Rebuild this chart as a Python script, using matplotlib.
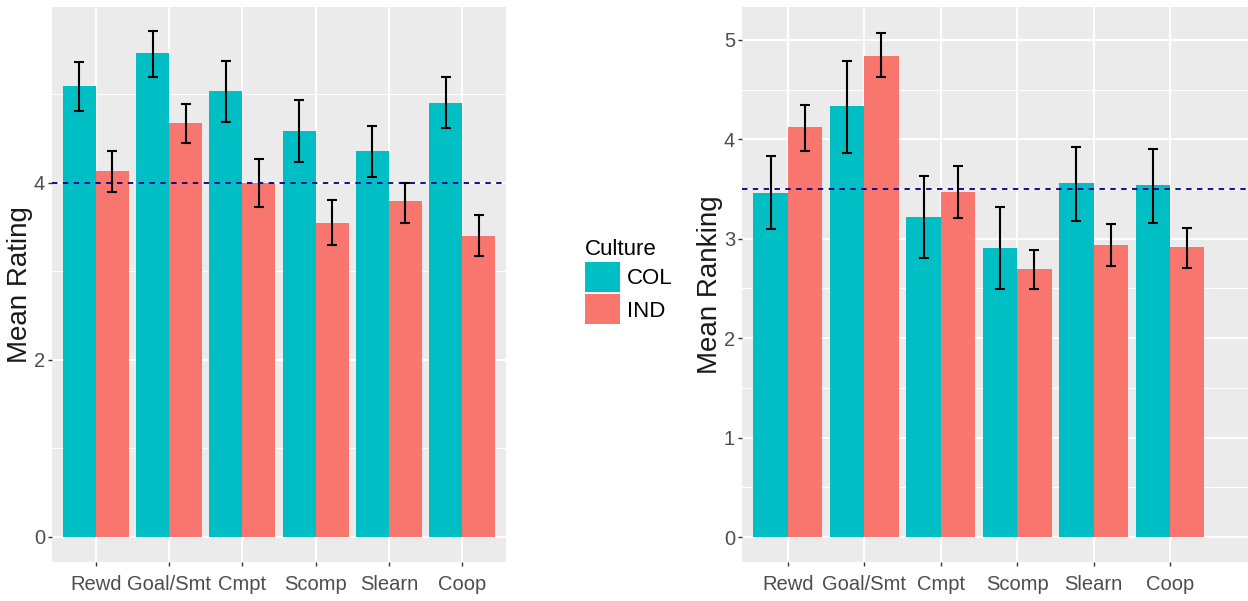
import numpy as np
import matplotlib
matplotlib.use("Agg")
import matplotlib.pyplot as plt
from matplotlib.patches import Patch
from matplotlib.ticker import MultipleLocator

plt.rcParams['font.family'] = ['Liberation Sans', 'DejaVu Sans']

categories = ["Rewd", "Goal/Smt", "Cmpt", "Scomp", "Slearn", "Coop"]

# left panel: mean rating
rating_col = [5.09, 5.46, 5.04, 4.58, 4.36, 4.90]
rating_col_lo = [4.81, 5.19, 4.69, 4.23, 4.07, 4.62]
rating_col_hi = [5.36, 5.71, 5.38, 4.94, 4.64, 5.19]
rating_ind = [4.13, 4.67, 4.00, 3.54, 3.79, 3.40]
rating_ind_lo = [3.89, 4.45, 3.72, 3.30, 3.55, 3.17]
rating_ind_hi = [4.36, 4.89, 4.27, 3.80, 4.00, 3.64]
rating_ref = 4.0

# right panel: mean ranking
rank_col = [3.46, 4.33, 3.22, 2.91, 3.56, 3.54]
rank_col_lo = [3.10, 3.86, 2.81, 2.49, 3.18, 3.16]
rank_col_hi = [3.83, 4.79, 3.63, 3.32, 3.92, 3.90]
rank_ind = [4.12, 4.84, 3.47, 2.70, 2.94, 2.92]
rank_ind_lo = [3.88, 4.63, 3.21, 2.49, 2.73, 2.71]
rank_ind_hi = [4.34, 5.07, 3.73, 2.89, 3.15, 3.11]
rank_ref = 3.5

TEAL = "#00BFC4"
SALMON = "#F8766D"
W, H = 1248, 601

fig = plt.figure(figsize=(W / 100, H / 100), dpi=100)


def px_axes(x0, y0, x1, y1):
    # pixel box (top-left origin) -> figure coords
    return fig.add_axes([x0 / W, 1 - y1 / H, (x1 - x0) / W, (y1 - y0) / H])


def draw_panel(ax, col, col_lo, col_hi, ind, ind_lo, ind_hi, ref, ylab, ylim, xlim, major, minor, labx):
    x = np.arange(1, len(categories) + 1)
    ax.set_facecolor("#EBEBEB")
    for s in ax.spines.values():
        s.set_visible(False)
    ax.set_axisbelow(True)
    ax.yaxis.set_major_locator(MultipleLocator(major))
    ax.yaxis.set_minor_locator(MultipleLocator(minor))
    ax.grid(which="major", color="white", linewidth=1.4)
    ax.grid(which="minor", axis="y", color="white", linewidth=0.7)
    ax.bar(x - 0.225, col, width=0.45, color=TEAL, zorder=2)
    ax.bar(x + 0.225, ind, width=0.45, color=SALMON, zorder=2)
    col = np.array(col)
    ind = np.array(ind)
    ax.errorbar(x - 0.225, col, yerr=[col - np.array(col_lo), np.array(col_hi) - col],
                fmt="none", ecolor="black", elinewidth=1.5, capsize=3.5, capthick=1.5, zorder=3)
    ax.errorbar(x + 0.225, ind, yerr=[ind - np.array(ind_lo), np.array(ind_hi) - ind],
                fmt="none", ecolor="black", elinewidth=1.5, capsize=3.5, capthick=1.5, zorder=3)
    ax.axhline(ref, color="#00008B", linestyle=(0, (3, 3)), linewidth=1.3, zorder=4)
    ax.set_xticks(x)
    ax.set_xticklabels(categories)
    ax.set_xlim(*xlim)
    ax.set_ylim(*ylim)
    ax.tick_params(which="major", length=3, width=1, color="#333333", labelsize=14.5,
                   labelcolor="#4D4D4D", pad=2)
    ax.tick_params(axis="x", pad=6)
    ax.tick_params(which="minor", length=0)
    ax.set_ylabel(ylab, fontsize=20, color="#1A1A1A")
    ax.yaxis.set_label_coords(labx, 0.5)


ax1 = px_axes(52, 7, 506, 562)
draw_panel(ax1, rating_col, rating_col_lo, rating_col_hi, rating_ind, rating_ind_lo, rating_ind_hi,
           rating_ref, "Mean Rating", (-0.285, 5.985), (0.4, 6.6), 2, 1, -0.042)

ax2 = px_axes(742, 7, 1248, 562)
draw_panel(ax2, rank_col, rank_col_lo, rank_col_hi, rank_ind, rank_ind_lo, rank_ind_hi,
           rank_ref, "Mean Ranking", (-0.25, 5.33), (0.4, 7.02), 1, 0.5, -0.038)

handles = [Patch(facecolor=TEAL, label="COL"), Patch(facecolor=SALMON, label="IND")]
fig.legend(handles=handles, title="Culture", loc="upper left",
           bbox_to_anchor=(576 / W, 1 - 230 / H), frameon=False,
           fontsize=16, title_fontsize=16, handlelength=1.6, handleheight=1.7,
           handletextpad=0.3, labelspacing=0.1, borderaxespad=0, alignment="left")

fig.savefig("out.png", dpi=100)
